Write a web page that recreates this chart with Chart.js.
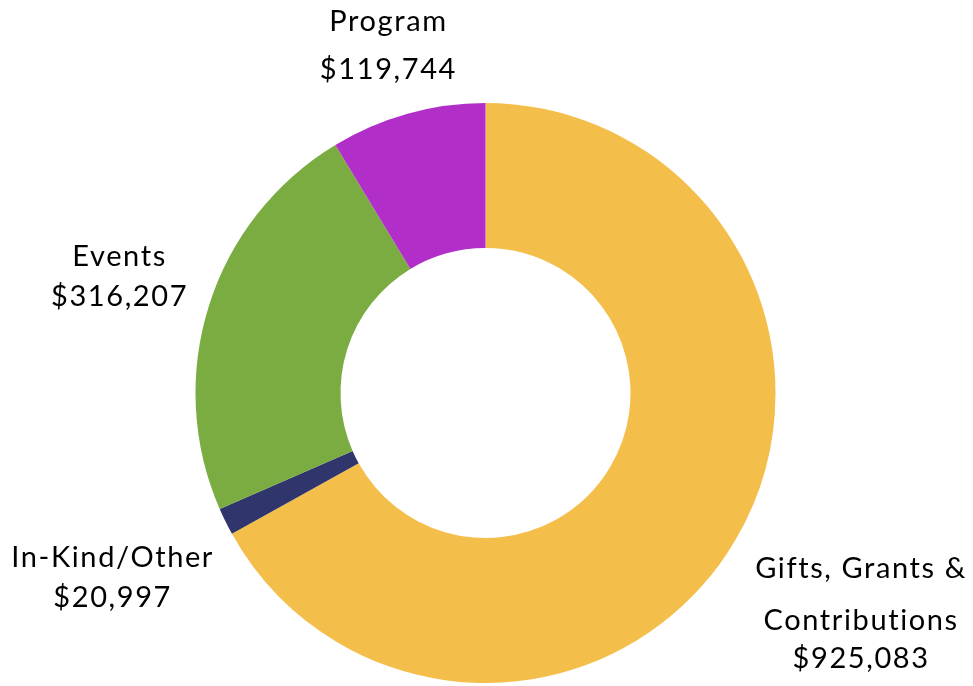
<!DOCTYPE html>
<html>
<head>
<meta charset="utf-8">
<script src="https://cdn.jsdelivr.net/npm/chart.js@4.4.0/dist/chart.umd.min.js"></script>
<style>
  html, body { margin: 0; padding: 0; background: #fff; }
  #wrap { width: 973px; height: 686px; }
</style>
</head>
<body>
<div id="wrap"><canvas id="revenueChart" width="973" height="686"></canvas></div>
<script>
const categories = ["Gifts, Grants & Contributions", "In-Kind/Other", "Events", "Program"];
const amounts = [925083, 20997, 316207, 119744];
const labelLines = [
  ["Gifts, Grants &", "Contributions"],
  ["In-Kind/Other"],
  ["Events"],
  ["Program"]
];
const sliceColors = ["#F4BE4B", "#30356B", "#7BAC42", "#B12FC8"];

// label placement: distance from centre (x outer radius) and vertical line offsets
const labelDistance = [1.503, 1.434, 1.324, 1.245];
const lineOffsets = [[-45, 7, 45], [-20, 20], [-20, 20], [-24, 24]];

const money = (v) => "$" + v.toLocaleString("en-US");

const outsideLabels = {
  id: "outsideLabels",
  afterDatasetsDraw(chart) {
    const ctx = chart.ctx;
    const arcs = chart.getDatasetMeta(0).data;
    ctx.save();
    ctx.font = "29px Lato, 'Open Sans', sans-serif";
    ctx.letterSpacing = "1.6px";
    ctx.fillStyle = "#000";
    ctx.textAlign = "center";
    ctx.textBaseline = "middle";
    arcs.forEach((arc, i) => {
      const p = arc.getProps(["x", "y", "startAngle", "endAngle", "outerRadius"], true);
      const mid = (p.startAngle + p.endAngle) / 2;
      const d = p.outerRadius * labelDistance[i];
      const cx = p.x + Math.cos(mid) * d;
      const cy = p.y + Math.sin(mid) * d;
      const lines = labelLines[i].concat([money(amounts[i])]);
      lines.forEach((t, j) => ctx.fillText(t, cx, cy + lineOffsets[i][j]));
    });
    ctx.restore();
  }
};

new Chart(document.getElementById("revenueChart").getContext("2d"), {
  type: "doughnut",
  data: {
    labels: categories,
    datasets: [{
      data: amounts,
      backgroundColor: sliceColors,
      borderWidth: 0
    }]
  },
  options: {
    responsive: false,
    animation: false,
    cutout: "50%",
    layout: { padding: { top: 103, bottom: 3, left: 195, right: 197 } },
    plugins: {
      legend: { display: false },
      tooltip: { enabled: false }
    }
  },
  plugins: [outsideLabels]
});
</script>
</body>
</html>
